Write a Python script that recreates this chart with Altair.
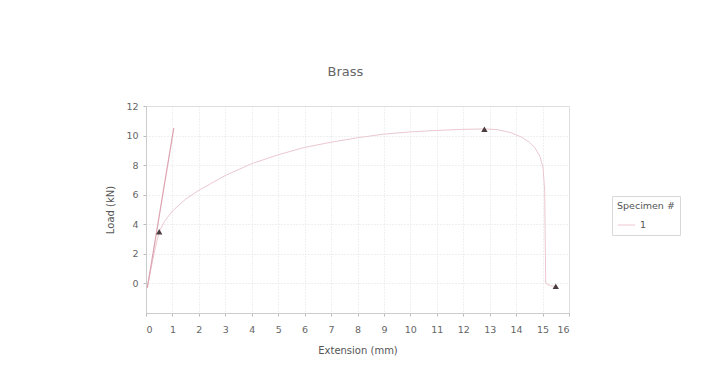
import altair as alt
import pandas as pd

# Load-extension curve (Specimen 1)
ext = [0.05, 0.2, 0.35, 0.5, 0.7, 1.0, 1.5, 2.0, 3.0, 4.0, 5.0, 6.0, 7.0, 8.0,
       9.0, 10.0, 11.0, 12.0, 12.8, 13.3, 13.8, 14.2, 14.5, 14.7, 14.9, 15.02,
       15.08, 15.1, 15.12, 15.3, 15.5]
load = [-0.2, 1.1, 2.4, 3.5, 4.2, 4.9, 5.7, 6.3, 7.3, 8.1, 8.7, 9.2, 9.55, 9.85,
        10.1, 10.25, 10.35, 10.42, 10.45, 10.4, 10.2, 9.9, 9.55, 9.2, 8.6, 7.8,
        6.3, 3.0, 0.0, -0.15, -0.2]
specimen = ["1"] * len(ext)

# Elastic modulus line
mod_x = [0.05, 1.05]
mod_y = [-0.3, 10.5]

# Marked points (yield, max load, break)
pt_x = [0.5, 12.8, 15.5]
pt_y = [3.5, 10.42, -0.2]

x_ticks = list(range(0, 17))
y_ticks = [0, 2, 4, 6, 8, 10, 12]

curve = pd.DataFrame({"ext": ext, "load": load, "spec": specimen,
                      "i": list(range(len(ext)))})
modline = pd.DataFrame({"ext": mod_x, "load": mod_y})
pts = pd.DataFrame({"ext": pt_x, "load": pt_y})

FONT = "DejaVu Sans"
xs = alt.Scale(domain=[0, 16], nice=False, zero=False)
ys = alt.Scale(domain=[-2, 12], nice=False, zero=False)

xax = alt.Axis(values=x_ticks, title="Extension (mm)", grid=True,
               gridDash=[1, 2], gridColor="#e0e0e0", labelFontSize=9.5,
               labelColor="#666", titleColor="#555", titleFontSize=10,
               titleFontWeight="normal", titleFont=FONT, labelFont=FONT,
               domainColor="#cccccc", tickColor="#bbbbbb", tickSize=3,
               labelPadding=8, titlePadding=12, labelOverlap=False)
yax = alt.Axis(values=y_ticks, title="Load (kN)", grid=True,
               gridDash=[1, 2], gridColor="#e0e0e0", labelFontSize=9.5,
               labelColor="#666", titleColor="#555", titleFontSize=10,
               titleFontWeight="normal", titleFont=FONT, labelFont=FONT,
               domainColor="#cccccc", tickColor="#bbbbbb", tickSize=3,
               labelPadding=5, titlePadding=10, labelOverlap=False)

X = alt.X("ext:Q", scale=xs, axis=xax)
Y = alt.Y("load:Q", scale=ys, axis=yax)

c = alt.Chart(curve).mark_line(strokeWidth=1).encode(
    x=X, y=Y,
    order="i:Q",
    color=alt.Color("spec:N", scale=alt.Scale(domain=["1"], range=["#ecc8d0"]),
                    legend=alt.Legend(title="Specimen #", orient="none",
                                      legendX=466, legendY=90,
                                      symbolType="stroke", symbolStrokeWidth=1,
                                      symbolSize=300,
                                      titleFont=FONT, labelFont=FONT,
                                      titleFontSize=9.5, labelFontSize=9.5,
                                      titleFontWeight="normal",
                                      titleColor="#555", labelColor="#555",
                                      strokeColor="#d8d8d8", padding=5,
                                      fillColor="white")),
)

m = alt.Chart(modline).mark_line(color="#dba3b0", strokeWidth=1.2).encode(
    x=X, y=Y)

p = alt.Chart(pts).mark_point(shape="triangle-up", filled=True, size=40,
                              color="#4a3b3d", opacity=1).encode(
    x=X, y=Y)

chart = alt.layer(c, m, p).properties(
    width=423, height=207,
    title=alt.TitleParams("Brass", font=FONT, fontSize=13, fontWeight="normal",
                          color="#666", dx=-12, offset=22),
    autosize=alt.AutoSizeParams(type="none"),
    padding={"left": 146, "top": 106, "right": 147, "bottom": 58},
    background="white",
).configure_view(stroke="#dddddd")

chart.save("out.html", embed_options={"renderer": "svg", "actions": False})
